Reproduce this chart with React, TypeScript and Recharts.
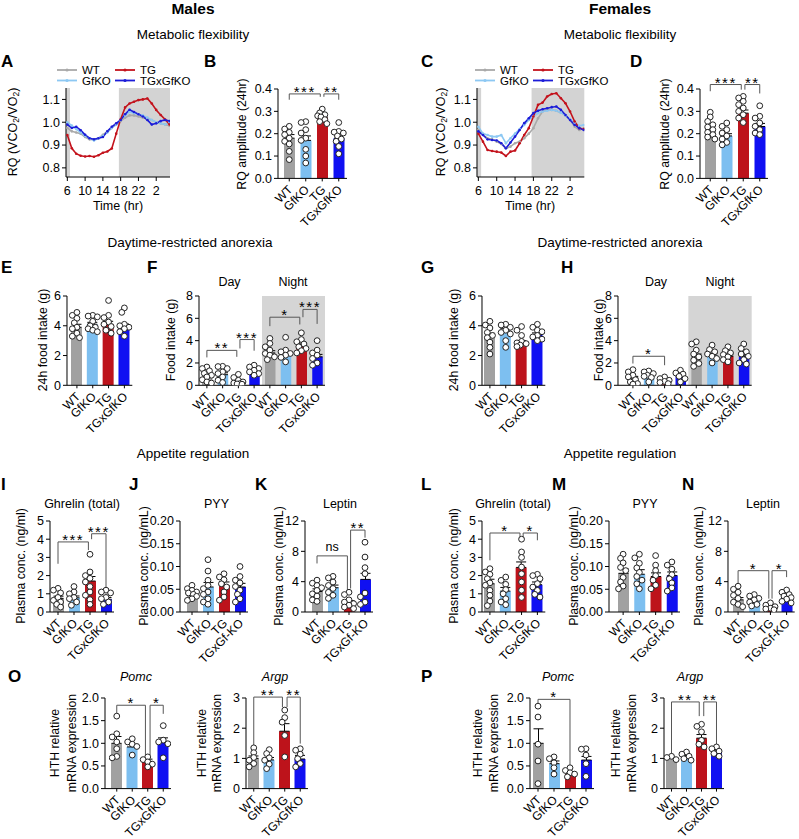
import React from 'react';
import {
  ComposedChart, Bar, Cell, XAxis, YAxis, Scatter, ErrorBar,
  ReferenceLine, ReferenceDot, ReferenceArea, Line,
} from 'recharts';

const FONT = '"Liberation Sans", Arial, Helvetica, sans-serif';

// ---------- categories ----------
const GROUPS = ['WT', 'GfKO', 'TG', 'TGxGfKO'];
const GROUPS_DASH = ['WT', 'GfKO', 'TG', 'TGxGf-KO'];
const GROUPS_8 = ['WT', 'GfKO', 'TG', 'TGxGfKO', 'WT', 'GfKO', 'TG', 'TGxGfKO'];
const BAR_COLORS = ['#a1a1a1', '#7dbff0', '#bd131b', '#1010f2'];
const LINE_COLORS = ['#a9a9a9', '#8dc8f3', '#c3121c', '#1c1cd8'];

// ---------- A / C : RQ time course ----------
const HOURS = [6, 7, 8, 9, 10, 11, 12, 13, 14, 15, 16, 17, 18, 19, 20, 21, 22, 23, 24, 25, 26, 27, 28, 29];
const HOUR_TICKS = [6, 10, 14, 18, 22, 26];
const A_WT = [0.975, 0.96, 0.955, 0.95, 0.935, 0.925, 0.925, 0.93, 0.945, 0.96, 0.975, 0.99, 1.005, 1.02, 1.03, 1.03, 1.025, 1.02, 1.015, 1.01, 1.0, 0.995, 0.99, 0.985];
const A_GF = [1.0, 0.985, 0.97, 0.955, 0.94, 0.93, 0.92, 0.93, 0.94, 0.955, 0.975, 0.99, 1.01, 1.03, 1.045, 1.04, 1.035, 1.03, 1.02, 1.01, 1.0, 0.995, 0.99, 1.0];
const A_TG = [0.944, 0.886, 0.862, 0.853, 0.85, 0.852, 0.849, 0.855, 0.866, 0.872, 0.885, 0.95, 1.013, 1.065, 1.082, 1.09, 1.097, 1.1, 1.104, 1.082, 1.054, 1.032, 1.012, 0.99];
const A_TGX = [0.99, 0.975, 0.98, 0.965, 0.945, 0.93, 0.925, 0.93, 0.935, 0.96, 0.98, 0.995, 1.01, 1.035, 1.055, 1.045, 1.035, 1.025, 1.01, 0.99, 0.995, 1.005, 1.01, 1.005];
const C_WT = [0.966, 0.945, 0.93, 0.925, 0.915, 0.905, 0.886, 0.893, 0.908, 0.915, 0.93, 0.95, 0.974, 1.017, 1.047, 1.054, 1.054, 1.05, 1.042, 1.03, 1.01, 0.98, 0.966, 0.974];
const C_GF = [0.98, 0.95, 0.944, 0.937, 0.937, 0.944, 0.908, 0.93, 0.95, 0.97, 0.988, 1.01, 1.025, 1.04, 1.047, 1.05, 1.054, 1.05, 1.042, 1.03, 1.012, 0.998, 0.984, 0.988];
const C_TG = [0.95, 0.915, 0.878, 0.874, 0.871, 0.867, 0.852, 0.871, 0.876, 0.908, 0.944, 0.974, 1.025, 1.076, 1.086, 1.113, 1.124, 1.127, 1.105, 1.083, 1.047, 1.003, 0.974, 0.97];
const C_TGX = [0.96, 0.944, 0.925, 0.922, 0.92, 0.908, 0.886, 0.911, 0.937, 0.966, 0.996, 1.017, 1.04, 1.05, 1.057, 1.061, 1.066, 1.069, 1.054, 1.032, 1.01, 0.988, 0.974, 0.966];

// ---------- B / D : RQ amplitude ----------
const B_MEAN = [0.18, 0.17, 0.272, 0.18];
const B_ERR = [0.016, 0.02, 0.008, 0.014];
const B_DOTS = [
  [0.233, 0.221, 0.206, 0.196, 0.18, 0.166, 0.154, 0.121, 0.084],
  [0.254, 0.25, 0.218, 0.203, 0.18, 0.17, 0.13, 0.1, 0.069],
  [0.31, 0.293, 0.285, 0.28, 0.275, 0.263, 0.254, 0.245],
  [0.25, 0.21, 0.207, 0.203, 0.19, 0.176, 0.166, 0.143, 0.11],
];
const B_SIG = [
  { a: 0, b: 1.88, y: 0.378, la: 0.352, lb: 0.365, t: '***' },
  { a: 2.1, b: 3, y: 0.378, la: 0.365, lb: 0.352, t: '**' },
];
const D_MEAN = [0.222, 0.19, 0.292, 0.232];
const D_ERR = [0.012, 0.01, 0.014, 0.014];
const D_DOTS = [
  [0.296, 0.275, 0.255, 0.24, 0.23, 0.218, 0.206, 0.196, 0.185, 0.176],
  [0.248, 0.233, 0.218, 0.203, 0.19, 0.176, 0.161, 0.15],
  [0.367, 0.36, 0.345, 0.33, 0.315, 0.3, 0.285, 0.27, 0.25],
  [0.325, 0.278, 0.27, 0.248, 0.233, 0.218, 0.203, 0.196],
];
const D_SIG = [
  { a: 0, b: 1.88, y: 0.42, la: 0.39, lb: 0.397, t: '***' },
  { a: 2.1, b: 3, y: 0.42, la: 0.397, lb: 0.38, t: '**' },
];
const RQ_TICKS = [0, 0.1, 0.2, 0.3, 0.4];

// ---------- E / G : 24h food intake ----------
const E_MEAN = [3.9, 4.1, 4.1, 3.95];
const E_ERR = [0.2, 0.13, 0.2, 0.17];
const E_DOTS = [
  [4.9, 4.7, 4.5, 4.2, 3.9, 3.8, 3.5, 3.3, 3.2],
  [4.7, 4.65, 4.6, 4.3, 4.0, 3.9, 3.8, 3.7, 3.6],
  [5.7, 4.7, 4.55, 4.25, 4.1, 3.95, 3.7, 3.5],
  [5.2, 4.9, 4.1, 4.0, 3.9, 3.8, 3.6, 3.3],
];
const G_MEAN = [3.25, 3.65, 2.85, 3.4];
const G_ERR = [0.25, 0.18, 0.15, 0.12];
const G_DOTS = [
  [4.3, 4.05, 3.85, 3.55, 3.35, 3.2, 2.9, 2.55, 2.1],
  [4.1, 4.05, 3.9, 3.7, 3.55, 3.45, 3.0, 2.55],
  [3.95, 3.7, 3.35, 2.95, 2.85, 2.8, 2.7, 2.6],
  [4.1, 3.9, 3.7, 3.6, 3.35, 3.25, 3.1, 3.0],
];
const FOOD24_TICKS = [0, 2, 4, 6];

// ---------- F / H : day / night food intake ----------
const F_MEAN = [0.75, 0.95, 0.35, 1.25, 2.9, 2.75, 3.55, 2.55];
const F_ERR = [0.15, 0.17, 0.09, 0.1, 0.2, 0.18, 0.15, 0.22];
const F_DOTS = [
  [1.64, 1.5, 1.3, 1.07, 0.9, 0.75, 0.5, 0.3, 0.2],
  [1.7, 1.68, 1.5, 1.2, 1.05, 0.75, 0.45, 0.25],
  [0.98, 0.7, 0.45, 0.3, 0.2, 0.15, 0.12, 0.1],
  [1.8, 1.64, 1.5, 1.35, 1.2, 1.05, 0.9],
  [4.2, 3.75, 3.45, 3.15, 2.85, 2.7, 2.55, 2.3],
  [4.3, 3.15, 3.0, 2.85, 2.7, 2.5, 2.1],
  [4.7, 4.1, 3.9, 3.7, 3.45, 3.3, 3.1, 2.9],
  [4.0, 3.15, 2.9, 2.7, 2.4, 2.0, 1.8],
];
const F_SIG = [
  { a: 0, b: 1.9, y: 3.13, la: 2.5, lb: 2.55, t: '**' },
  { a: 2.1, b: 3, y: 4.1, la: 3.3, lb: 3.1, t: '***' },
  { a: 4, b: 5.9, y: 6.1, la: 5.3, lb: 5.45, t: '*' },
  { a: 6.1, b: 7, y: 6.8, la: 6.1, lb: 5.5, t: '***' },
];
const H_MEAN = [0.65, 0.8, 0.38, 0.78, 2.55, 2.7, 2.6, 2.6];
const H_ERR = [0.15, 0.1, 0.07, 0.12, 0.25, 0.16, 0.12, 0.2];
const H_DOTS = [
  [1.4, 1.2, 0.9, 0.75, 0.5, 0.3, 0.15, 0.1],
  [1.28, 1.2, 1.05, 0.9, 0.8, 0.7, 0.3],
  [0.75, 0.6, 0.45, 0.35, 0.25, 0.15],
  [1.35, 1.1, 1.0, 0.8, 0.6, 0.3],
  [3.9, 3.7, 3.15, 2.8, 2.55, 2.25, 1.95, 1.7],
  [3.6, 3.2, 3.0, 2.8, 2.6, 2.4, 2.0],
  [3.45, 3.1, 2.9, 2.75, 2.55, 2.3, 2.1],
  [3.7, 3.3, 3.0, 2.8, 2.6, 2.3, 2.0, 1.9],
];
const H_SIG = [{ a: 0, b: 2, y: 2.6, la: 1.95, lb: 1.8, t: '*' }];
const FOOD_TICKS = [0, 2, 4, 6, 8];

// ---------- I-N : plasma hormones ----------
const I_MEAN = [0.75, 0.78, 1.7, 0.7];
const I_ERR = [0.12, 0.1, 0.25, 0.1];
const I_DOTS = [
  [1.3, 1.2, 1.05, 0.8, 0.64, 0.55, 0.42, 0.27],
  [1.4, 1.1, 1.0, 0.8, 0.73, 0.55, 0.37],
  [3.17, 2.2, 2.0, 1.85, 1.65, 1.4, 1.1, 0.92, 0.68, 0.42],
  [1.2, 1.1, 1.05, 0.8, 0.73, 0.55, 0.42],
];
const I_SIG = [
  { a: 0, b: 1.9, y: 3.85, la: 2.65, lb: 3.4, t: '***' },
  { a: 2.1, b: 3, y: 4.3, la: 4.0, lb: 1.2, t: '***' },
];
const J_MEAN = [0.04, 0.055, 0.058, 0.055];
const J_ERR = [0.004, 0.01, 0.008, 0.008];
const J_DOTS = [
  [0.0586, 0.0513, 0.0476, 0.044, 0.0418, 0.0388, 0.0344, 0.029, 0.0256],
  [0.115, 0.09, 0.0696, 0.0586, 0.0513, 0.044, 0.0388, 0.029, 0.022, 0.017],
  [0.084, 0.077, 0.071, 0.062, 0.055, 0.044, 0.033, 0.026],
  [0.1, 0.078, 0.07, 0.064, 0.056, 0.048, 0.039, 0.029, 0.022],
];
const K_MEAN = [2.7, 3.2, 1.2, 4.3];
const K_ERR = [0.35, 0.35, 0.3, 0.8];
const K_DOTS = [
  [4.2, 3.8, 3.5, 3.2, 2.85, 2.4, 2.1, 1.6, 1.4],
  [4.7, 4.5, 3.95, 3.5, 3.1, 2.6, 2.2, 1.8],
  [2.6, 2.3, 1.6, 1.3, 1.1, 0.9, 0.65, 0.45],
  [9.2, 7.25, 5.85, 5.05, 2.5, 2.0, 1.3, 1.0],
];
const K_SIG = [
  { a: 0, b: 1.9, y: 7.4, la: 6.4, lb: 2.9, t: 'ns' },
  { a: 2.1, b: 3, y: 10.8, la: 3.1, lb: 9.8, t: '**' },
];
const L_MEAN = [1.55, 1.15, 2.45, 1.5];
const L_ERR = [0.25, 0.2, 0.3, 0.15];
const L_DOTS = [
  [2.38, 2.2, 2.07, 1.83, 1.6, 1.47, 1.19, 0.92, 0.6, 0.35],
  [1.92, 1.74, 1.52, 1.23, 1.0, 0.73, 0.55, 0.4],
  [4.0, 3.3, 3.0, 2.47, 2.1, 1.65, 1.2, 0.8],
  [2.07, 2.0, 1.83, 1.56, 1.37, 1.19, 0.97, 0.82],
];
const L_SIG = [
  { a: 0, b: 1.9, y: 4.34, la: 2.84, lb: 4.1, t: '*' },
  { a: 2.1, b: 3, y: 4.34, la: 4.1, lb: 3.94, t: '*' },
];
const M_MEAN = [0.085, 0.083, 0.078, 0.08];
const M_ERR = [0.01, 0.01, 0.008, 0.008];
const M_DOTS = [
  [0.127, 0.118, 0.108, 0.098, 0.091, 0.076, 0.066, 0.057, 0.051],
  [0.127, 0.119, 0.107, 0.097, 0.087, 0.078, 0.07, 0.062, 0.051],
  [0.124, 0.103, 0.091, 0.08, 0.07, 0.059, 0.051],
  [0.11, 0.103, 0.094, 0.082, 0.073, 0.064, 0.053, 0.046],
];
const N_MEAN = [1.6, 1.5, 0.65, 1.9];
const N_ERR = [0.3, 0.22, 0.15, 0.2];
const N_DOTS = [
  [3.4, 3.0, 2.6, 2.2, 1.8, 1.3, 1.0, 0.7],
  [2.3, 2.1, 1.8, 1.6, 1.3, 1.0, 0.8],
  [1.2, 0.9, 0.7, 0.5, 0.4, 0.3],
  [2.9, 2.6, 2.3, 2.1, 1.9, 1.7, 1.4, 1.2],
];
const N_SIG = [
  { a: 0, b: 1.9, y: 5.45, la: 3.3, lb: 1.76, t: '*' },
  { a: 2.1, b: 3, y: 5.45, la: 1.76, lb: 4.6, t: '*' },
];
const GHRELIN_TICKS = [0, 1, 2, 3, 4, 5];
const PYY_TICKS = [0, 0.05, 0.1, 0.15, 0.2];
const LEPTIN_TICKS = [0, 4, 8, 12];

// ---------- O / P : HTH mRNA ----------
const OP_MEAN = [1.0, 0.92, 0.6, 1.02];
const OP_ERR = [0.15, 0.06, 0.05, 0.1];
const OP_DOTS = [
  [1.6, 1.21, 1.14, 1.03, 0.88, 0.71, 0.68],
  [1.1, 1.03, 0.98, 0.93, 0.74],
  [0.7, 0.64, 0.59, 0.54, 0.48],
  [1.39, 1.07, 1.03, 0.99, 0.68],
];
const OP_SIG = [
  { a: 0, b: 1.85, y: 1.84, la: 1.65, lb: 0.74, t: '*' },
  { a: 2.15, b: 3, y: 1.84, la: 0.74, lb: 1.65, t: '*' },
];
const OA_MEAN = [1.0, 0.95, 1.9, 0.98];
const OA_ERR = [0.08, 0.08, 0.25, 0.12];
const OA_DOTS = [
  [1.35, 1.19, 1.03, 0.94, 0.83, 0.72],
  [1.29, 1.16, 1.02, 0.94, 0.81, 0.66],
  [2.6, 2.35, 2.2, 1.76, 1.05],
  [1.32, 1.27, 1.14, 0.99, 0.83, 0.72],
];
const OA_SIG = [
  { a: 0, b: 1.85, y: 3.03, la: 1.38, lb: 2.7, t: '**' },
  { a: 2.15, b: 3, y: 3.03, la: 2.7, lb: 1.49, t: '**' },
];
const PP_MEAN = [1.0, 0.55, 0.33, 0.63];
const PP_ERR = [0.32, 0.06, 0.04, 0.08];
const PP_DOTS = [
  [1.82, 1.58, 0.98, 0.61, 0.11],
  [0.7, 0.66, 0.57, 0.46, 0.32],
  [0.46, 0.4, 0.35, 0.32, 0.26],
  [0.88, 0.87, 0.74, 0.55, 0.27],
];
const PP_SIG = [{ a: 0, b: 2, y: 1.97, la: 1.88, lb: 0.51, t: '*' }];
const PA_MEAN = [1.0, 1.05, 1.67, 1.2];
const PA_ERR = [0.03, 0.05, 0.12, 0.05];
const PA_DOTS = [
  [1.07, 1.03, 0.96],
  [1.21, 1.14, 1.07, 0.99, 0.94],
  [2.13, 2.06, 1.88, 1.6, 1.47, 1.38],
  [1.38, 1.32, 1.24, 1.16, 1.07],
];
const PA_SIG = [
  { a: 0, b: 1.85, y: 2.87, la: 1.05, lb: 2.4, t: '**' },
  { a: 2.15, b: 3, y: 2.87, la: 2.4, lb: 1.38, t: '**' },
];
const POMC_TICKS = [0, 0.5, 1, 1.5, 2];
const ARGP_TICKS = [0, 1, 2, 3];

// ---------- helpers ----------
// deterministic beeswarm: place each dot at the first free horizontal slot
function swarm(vals: number[], pxPerUnit: number, band: number): number[] {
  const placed: { x: number; y: number }[] = [];
  const cand = [0, -2.6, 2.6, -4.6, 4.6, -1.3, 1.3, -3.6, 3.6];
  return vals.map((v) => {
    const y = v * pxPerUnit;
    let best = 0;
    let bestD = -1;
    for (const c of cand) {
      let minD = Infinity;
      for (const p of placed) minD = Math.min(minD, Math.hypot(p.x - c, p.y - y));
      if (minD >= 4.6) { best = c; bestD = Infinity; break; }
      if (minD > bestD) { bestD = minD; best = c; }
    }
    placed.push({ x: best, y });
    return best / band;
  });
}

function RotTick(props: any) {
  const { x, y, payload, labels } = props;
  const idx = Number(String(payload.value).slice(1));
  const px = x + 4;
  const py = y + 7;
  return (
    <text x={px} y={py} transform={`rotate(-45 ${px} ${py})`} textAnchor="end"
      fontSize={12} fontFamily={FONT} fill="#000">{labels[idx]}</text>
  );
}

type Sig = { a: number; b: number; y: number; la: number; lb: number; t: string };

function BarPanel(p: {
  box: number[]; pad?: number; domain: [number, number]; ticks: number[]; dec?: number;
  labels: string[]; means: number[]; errs: number[]; dots: number[][]; sig?: Sig[]; shade?: boolean; barSize?: number;
}) {
  const { box, pad = 0, domain, ticks, dec = 0, labels, means, errs, dots, sig = [], shade = false, barSize = 11 } = p;
  const [x0, y0, x1, y1] = box;
  const ML = 44, MT = 30, MR = 4, MB = 62;
  const n = means.length;
  const band = (x1 - x0 - pad) / n;
  const ppu = (y1 - y0) / (domain[1] - domain[0]);
  const data = means.map((m, i) => ({ k: 'c' + i, mean: m, err: [0, errs[i]] }));
  const pts = dots.flatMap((vals, i) => {
    const offs = swarm(vals, ppu, band);
    return vals.map((v, j) => ({ x: i + offs[j], y: v }));
  });
  return (
    <div style={{ position: 'absolute', left: x0 - ML, top: y0 - MT }}>
      <ComposedChart width={x1 - x0 + ML + MR} height={y1 - y0 + MT + MB} data={data}
        margin={{ top: MT, right: MR, bottom: 0, left: 0 }}>
        {shade && (
          <ReferenceArea xAxisId="num" x1={n / 2 - 0.5} x2={n - 0.5} y1={domain[0]} y2={domain[1]}
            fill="#d5d5d5" fillOpacity={1} stroke="none" />
        )}
        <XAxis xAxisId="cat" dataKey="k" type="category" height={MB} padding={{ left: pad, right: 0 }}
          interval={0} tickSize={3} stroke="#000" tick={<RotTick labels={labels} />} />
        <XAxis xAxisId="num" dataKey="x" type="number" domain={[-0.5, n - 0.5]} hide allowDataOverflow
          padding={{ left: pad, right: 0 }} />
        <YAxis width={ML} domain={domain} ticks={ticks} allowDataOverflow interval={0} tickSize={4}
          stroke="#000" tick={{ fill: '#000', fontSize: 12.5, fontFamily: FONT }}
          tickFormatter={(v: number) => v.toFixed(dec)} />
        <Bar xAxisId="cat" dataKey="mean" barSize={barSize} isAnimationActive={false}>
          {means.map((_, i) => <Cell key={i} fill={BAR_COLORS[i % 4]} />)}
          <ErrorBar dataKey="err" width={5} stroke="#000" strokeWidth={1} direction="y" />
        </Bar>
        <Scatter xAxisId="num" data={pts} dataKey="y" isAnimationActive={false}
          shape={(s: any) => <circle cx={s.cx} cy={s.cy} r={2.9} fill="#fff" stroke="#222" strokeWidth={1} />} />
        {sig.flatMap((s, i) => [
          <ReferenceLine key={'h' + i} xAxisId="num" segment={[{ x: s.a, y: s.y }, { x: s.b, y: s.y }]}
            stroke="#555" strokeWidth={1} ifOverflow="visible" />,
          <ReferenceLine key={'l' + i} xAxisId="num" segment={[{ x: s.a, y: s.y }, { x: s.a, y: s.la }]}
            stroke="#555" strokeWidth={1} ifOverflow="visible" />,
          <ReferenceLine key={'r' + i} xAxisId="num" segment={[{ x: s.b, y: s.y }, { x: s.b, y: s.lb }]}
            stroke="#555" strokeWidth={1} ifOverflow="visible" />,
          <ReferenceDot key={'t' + i} xAxisId="num" x={(s.a + s.b) / 2} y={s.y} r={0} ifOverflow="visible"
            shape={(d: any) => (
              <text x={d.cx} y={d.cy + (s.t === 'ns' ? -5 : 3)} textAnchor="middle" fontFamily={FONT}
                fontSize={s.t === 'ns' ? 12.5 : 15} letterSpacing={s.t === 'ns' ? 0 : 1.5} fill="#000">{s.t}</text>
            )} />,
        ])}
      </ComposedChart>
    </div>
  );
}

function LinePanel({ box, series }: { box: number[]; series: number[][] }) {
  const [x0, y0, x1, y1] = box;
  const ML = 44, MT = 6, MR = 4, MB = 28;
  const rows = HOURS.map((h, i) => ({ h, wt: series[0][i], gf: series[1][i], tg: series[2][i], tgx: series[3][i] }));
  const keys = ['wt', 'gf', 'tg', 'tgx'];
  return (
    <div style={{ position: 'absolute', left: x0 - ML, top: y0 - MT }}>
      <ComposedChart width={x1 - x0 + ML + MR} height={y1 - y0 + MT + MB} data={rows}
        margin={{ top: MT, right: MR, bottom: 0, left: 0 }}>
        <ReferenceArea x1={5.7} x2={6.6} fill="#d3d3d3" fillOpacity={1} stroke="none" />
        <ReferenceArea x1={17.6} x2={29.1} fill="#d3d3d3" fillOpacity={1} stroke="none" />
        <XAxis dataKey="h" type="number" domain={[5.7, 29.1]} ticks={HOUR_TICKS} allowDataOverflow
          height={MB} interval={0} tickSize={4} tickMargin={5} stroke="#000"
          tick={{ fill: '#000', fontSize: 12.5, fontFamily: FONT }}
          tickFormatter={(v: number) => String(v > 24 ? v - 24 : v)} />
        <YAxis width={ML} domain={[0.76, 1.15]} ticks={[0.8, 0.9, 1.0, 1.1]} allowDataOverflow interval={0}
          tickSize={4} stroke="#000" tick={{ fill: '#000', fontSize: 12.5, fontFamily: FONT }}
          tickFormatter={(v: number) => v.toFixed(1)} />
        {keys.map((k, i) => (
          <Line key={k} dataKey={k} stroke={LINE_COLORS[i]} strokeWidth={1.6} isAnimationActive={false}
            dot={{ r: 1.3, fill: LINE_COLORS[i], stroke: 'none' }} />
        ))}
      </ComposedChart>
    </div>
  );
}

// ---------- page annotations ----------
type Txt = { x: number; y: number; t: string; s?: number; b?: boolean; i?: boolean; a?: string };
const TEXTS: Txt[] = [
  { x: 193, y: 14, t: 'Males', s: 15.5, b: true },
  { x: 620, y: 14, t: 'Females', s: 15.5, b: true },
  { x: 193, y: 39, t: 'Metabolic flexibility', s: 13.5 },
  { x: 620, y: 39, t: 'Metabolic flexibility', s: 13.5 },
  { x: 190, y: 247, t: 'Daytime-restricted anorexia', s: 13.5 },
  { x: 620, y: 247, t: 'Daytime-restricted anorexia', s: 13.5 },
  { x: 193, y: 458, t: 'Appetite regulation', s: 13.5 },
  { x: 620, y: 458, t: 'Appetite regulation', s: 13.5 },
  { x: 1, y: 67, t: 'A', s: 17, b: true, a: 'start' },
  { x: 204, y: 67, t: 'B', s: 17, b: true, a: 'start' },
  { x: 421, y: 67, t: 'C', s: 17, b: true, a: 'start' },
  { x: 630, y: 67, t: 'D', s: 17, b: true, a: 'start' },
  { x: 1, y: 273, t: 'E', s: 17, b: true, a: 'start' },
  { x: 147, y: 273, t: 'F', s: 17, b: true, a: 'start' },
  { x: 421, y: 273, t: 'G', s: 17, b: true, a: 'start' },
  { x: 561, y: 273, t: 'H', s: 17, b: true, a: 'start' },
  { x: 1, y: 490, t: 'I', s: 17, b: true, a: 'start' },
  { x: 129, y: 490, t: 'J', s: 17, b: true, a: 'start' },
  { x: 255, y: 490, t: 'K', s: 17, b: true, a: 'start' },
  { x: 421, y: 490, t: 'L', s: 17, b: true, a: 'start' },
  { x: 552, y: 490, t: 'M', s: 17, b: true, a: 'start' },
  { x: 682, y: 490, t: 'N', s: 17, b: true, a: 'start' },
  { x: 8, y: 682, t: 'O', s: 17, b: true, a: 'start' },
  { x: 421, y: 682, t: 'P', s: 17, b: true, a: 'start' },
  { x: 118, y: 210, t: 'Time (hr)', s: 12.5 },
  { x: 530, y: 210, t: 'Time (hr)', s: 12.5 },
  { x: 229.5, y: 286, t: 'Day', s: 12.5 },
  { x: 293, y: 286, t: 'Night', s: 12.5 },
  { x: 656, y: 286, t: 'Day', s: 12.5 },
  { x: 720, y: 286, t: 'Night', s: 12.5 },
  { x: 82, y: 508, t: 'Ghrelin (total)', s: 12.5 },
  { x: 216.5, y: 508, t: 'PYY', s: 12.5 },
  { x: 340, y: 508, t: 'Leptin', s: 12.5 },
  { x: 513, y: 508, t: 'Ghrelin (total)', s: 12.5 },
  { x: 645, y: 508, t: 'PYY', s: 12.5 },
  { x: 763, y: 508, t: 'Leptin', s: 12.5 },
  { x: 136, y: 681, t: 'Pomc', s: 12.5, i: true },
  { x: 275, y: 681, t: 'Argp', s: 12.5, i: true },
  { x: 558, y: 681, t: 'Pomc', s: 12.5, i: true },
  { x: 690, y: 681, t: 'Argp', s: 12.5, i: true },
];
const YLABELS: Txt[] = [
  { x: 242, y: 134, t: 'RQ amplitude (24hr)' },
  { x: 665, y: 134, t: 'RQ amplitude (24hr)' },
  { x: 42.5, y: 340, t: '24h food intake (g)' },
  { x: 171, y: 340, t: 'Food intake (g)' },
  { x: 454, y: 340, t: '24h food intake (g)' },
  { x: 598.5, y: 340, t: 'Food intake (g)' },
  { x: 21, y: 566, t: 'Plasma conc. (ng/ml)' },
  { x: 144, y: 566, t: 'Plasma conc. (ng/mL)' },
  { x: 279, y: 566, t: 'Plasma conc. (ng/mL)' },
  { x: 454, y: 566, t: 'Plasma conc. (ng/ml)' },
  { x: 574, y: 566, t: 'Plasma conc. (ng/mL)' },
  { x: 699, y: 566, t: 'Plasma conc. (ng/mL)' },
  { x: 55, y: 743, t: 'HTH relative' },
  { x: 72, y: 743, t: 'mRNA expression' },
  { x: 201.5, y: 743, t: 'HTH relative' },
  { x: 217, y: 743, t: 'mRNA expression' },
  { x: 478, y: 743, t: 'HTH relative' },
  { x: 494, y: 743, t: 'mRNA expression' },
  { x: 615.5, y: 743, t: 'HTH relative' },
  { x: 632, y: 743, t: 'mRNA expression' },
];
const LEGEND_NAMES = ['WT', 'GfKO', 'TG', 'TGxGfKO'];

function Legend4({ x, y }: { x: number; y: number }) {
  const pos = [[0, 0], [0, 10.5], [58, 0], [58, 10.5]];
  return (
    <g>
      {LEGEND_NAMES.map((name, i) => {
        const lx = x + pos[i][0];
        const ly = y + pos[i][1];
        return (
          <g key={name}>
            <line x1={lx} y1={ly} x2={lx + 20} y2={ly} stroke={LINE_COLORS[i]} strokeWidth={1.8} />
            <circle cx={lx + 10} cy={ly} r={1.6} fill={LINE_COLORS[i]} />
            <text x={lx + 25} y={ly + 4} fontSize={11.5} fontFamily={FONT} fill="#000">{name}</text>
          </g>
        );
      })}
    </g>
  );
}

function RQLabel({ x, y }: { x: number; y: number }) {
  return (
    <text transform={`translate(${x},${y}) rotate(-90)`} textAnchor="middle" dominantBaseline="central"
      fontSize={12.5} fontFamily={FONT} fill="#000">
      RQ (VCO<tspan fontSize={8.5} dy={3}>2</tspan><tspan dy={-3}>/VO</tspan>
      <tspan fontSize={8.5} dy={3}>2</tspan><tspan dy={-3}>)</tspan>
    </text>
  );
}

function Overlay() {
  return (
    <svg width={799} height={839} style={{ position: 'absolute', left: 0, top: 0 }}>
      {TEXTS.map((d, i) => (
        <text key={i} x={d.x} y={d.y} textAnchor={(d.a as any) || 'middle'} fontSize={d.s || 12.5}
          fontWeight={d.b ? 'bold' : 'normal'} fontStyle={d.i ? 'italic' : 'normal'} fontFamily={FONT}
          fill="#000">{d.t}</text>
      ))}
      {YLABELS.map((d, i) => (
        <text key={'y' + i} transform={`translate(${d.x},${d.y}) rotate(-90)`} textAnchor="middle"
          dominantBaseline="central" fontSize={12.3} fontFamily={FONT} fill="#000">{d.t}</text>
      ))}
      <RQLabel x={13} y={132} />
      <RQLabel x={441} y={132} />
      <Legend4 x={57} y={70} />
      <Legend4 x={475} y={70} />
    </svg>
  );
}

export default function App() {
  return (
    <div style={{ position: 'absolute', left: 0, top: 0, width: 799, height: 839, background: '#fff', overflow: 'hidden', fontFamily: FONT }}>
      <Overlay />
      <LinePanel box={[66, 88, 170, 177]} series={[A_WT, A_GF, A_TG, A_TGX]} />
      <LinePanel box={[476.7, 88, 584, 177]} series={[C_WT, C_GF, C_TG, C_TGX]} />
      <BarPanel box={[278, 89.3, 347, 178.7]} pad={3} domain={[0, 0.4]} ticks={RQ_TICKS} dec={1}
        labels={GROUPS} means={B_MEAN} errs={B_ERR} dots={B_DOTS} sig={B_SIG} />
      <BarPanel box={[700, 89.3, 768, 178.7]} pad={2} domain={[0, 0.4]} ticks={RQ_TICKS} dec={1}
        labels={GROUPS} means={D_MEAN} errs={D_ERR} dots={D_DOTS} sig={D_SIG} />
      <BarPanel box={[66.7, 295.7, 132, 385]} pad={2} domain={[0, 6]} ticks={FOOD24_TICKS}
        labels={GROUPS} means={E_MEAN} errs={E_ERR} dots={E_DOTS} />
      <BarPanel box={[199, 295.7, 325, 385]} domain={[0, 8]} ticks={FOOD_TICKS} shade barSize={10.5}
        labels={GROUPS_8} means={F_MEAN} errs={F_ERR} dots={F_DOTS} sig={F_SIG} />
      <BarPanel box={[481.7, 295.7, 545, 385]} domain={[0, 6]} ticks={FOOD24_TICKS}
        labels={GROUPS} means={G_MEAN} errs={G_ERR} dots={G_DOTS} />
      <BarPanel box={[618.3, 295.7, 752, 385]} pad={7} domain={[0, 8]} ticks={FOOD_TICKS} shade barSize={10.5}
        labels={GROUPS_8} means={H_MEAN} errs={H_ERR} dots={H_DOTS} sig={H_SIG} />
      <BarPanel box={[50, 520.7, 114, 611.7]} domain={[0, 5]} ticks={GHRELIN_TICKS}
        labels={GROUPS} means={I_MEAN} errs={I_ERR} dots={I_DOTS} sig={I_SIG} />
      <BarPanel box={[180, 520.7, 248, 611.7]} pad={4} domain={[0, 0.2]} ticks={PYY_TICKS} dec={2}
        labels={GROUPS_DASH} means={J_MEAN} errs={J_ERR} dots={J_DOTS} />
      <BarPanel box={[305, 520.7, 373, 611.7]} pad={4} domain={[0, 12]} ticks={LEPTIN_TICKS}
        labels={GROUPS_DASH} means={K_MEAN} errs={K_ERR} dots={K_DOTS} sig={K_SIG} />
      <BarPanel box={[481.7, 520.7, 545, 611.7]} domain={[0, 5]} ticks={GHRELIN_TICKS}
        labels={GROUPS} means={L_MEAN} errs={L_ERR} dots={L_DOTS} sig={L_SIG} />
      <BarPanel box={[609, 520.7, 680, 611.7]} pad={6} domain={[0, 0.2]} ticks={PYY_TICKS} dec={2}
        labels={GROUPS_DASH} means={M_MEAN} errs={M_ERR} dots={M_DOTS} />
      <BarPanel box={[728.3, 520.7, 795, 611.7]} pad={2} domain={[0, 12]} ticks={LEPTIN_TICKS}
        labels={GROUPS_DASH} means={N_MEAN} errs={N_ERR} dots={N_DOTS} sig={N_SIG} />
      <BarPanel box={[105, 697.7, 171, 788.3]} pad={4} domain={[0, 2]} ticks={POMC_TICKS} dec={1}
        labels={GROUPS} means={OP_MEAN} errs={OP_ERR} dots={OP_DOTS} sig={OP_SIG} />
      <BarPanel box={[246, 697.7, 308, 788.3]} domain={[0, 3]} ticks={ARGP_TICKS}
        labels={GROUPS} means={OA_MEAN} errs={OA_ERR} dots={OA_DOTS} sig={OA_SIG} />
      <BarPanel box={[530, 697.7, 594, 788.3]} domain={[0, 2]} ticks={POMC_TICKS} dec={1}
        labels={GROUPS} means={PP_MEAN} errs={PP_ERR} dots={PP_DOTS} sig={PP_SIG} />
      <BarPanel box={[664, 697.7, 724, 788.3]} domain={[0, 3]} ticks={ARGP_TICKS}
        labels={GROUPS} means={PA_MEAN} errs={PA_ERR} dots={PA_DOTS} sig={PA_SIG} />
    </div>
  );
}
